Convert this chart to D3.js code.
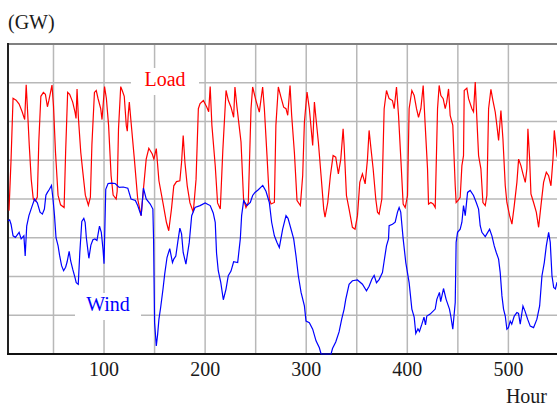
<!DOCTYPE html>
<html>
<head>
<meta charset="utf-8">
<script src="https://cdn.jsdelivr.net/npm/d3@7"></script>
<style>
  body { margin: 0; background: #fff; }
  svg { display: block; font-family: "Liberation Serif", "Times New Roman", serif; }
</style>
</head>
<body>
<svg id="chart" width="557" height="406"></svg>
<script>
// hourly load and wind output (GW) at turning points
const loadData = [
  [6,37],[8,50],[10,66],[13,65.5],[16,64.5],[19,62.5],[21.5,60.5],[23,69.5],[24.5,62],[26,54],[28,45],[30,40],[32,39.5],[34,40.5],
  [35.5,55],[37.5,66.5],[40,67.5],[42,67],[44,63.8],[45.5,65.5],[48.5,69.4],[50,64],[52,52],[54.5,41],[57,38.5],[60.5,37.8],
  [62,52],[64,67.5],[66,67],[69,65],[71.3,62.4],[72.3,60.8],[73.3,68.4],[74.7,60.7],[77,52],[79,47],[81.5,41],[84.5,38.4],[86.5,40.5],
  [88,54],[90.5,67.5],[92.3,68],[94,66],[96.7,63.3],[98,60.5],[100.5,69],[102.3,66],[104.5,59],[107,46],[109,41],[112,40],[113,42],
  [114.3,58],[116.5,69],[118,68],[120,66.5],[122,59],[123,57.5],[124,62],[125,65],[126.5,60.5],[130,50.3],[133.3,40],[136.7,35.7],
  [139,42.6],[141.7,50.3],[144.3,53.1],[147.7,51.6],[149.3,50.3],[151.7,53],[154.3,44.7],[158.3,39],[161.7,34],[164,31.8],
  [166.7,37.4],[169,43.4],[171.7,44.5],[175,44.7],[176.7,49.5],[178.3,56.4],[180,49.5],[182.3,43.4],[185,39],[188.3,36.6],
  [191,45],[193.3,63.3],[195,64.6],[198.3,65.4],[201.7,63.7],[203.5,62.5],[205,69],[206.7,59],[210,48.6],[212.3,39],[215,37.4],
  [217.5,52.5],[220.7,68],[223,65.4],[225.6,63.7],[228.2,61.1],[229.5,68.9],[231.5,63.7],[235.5,54.7],[238,40],[240.4,37.8],
  [242.7,39.1],[245.4,63.3],[247,68.9],[250.3,65.4],[253.6,62.4],[256.9,68.9],[258.6,63.3],[261.2,51.2],[263.5,40],[265.2,38.7],
  [268.5,39.1],[270,59],[272.4,68.9],[275,66.3],[277.7,63.7],[280,63.3],[281.7,61.6],[284,69.3],[285.6,61.6],[288.3,52],
  [290.9,39.6],[294.2,38.3],[296.5,46],[298.2,59.8],[300.8,67.6],[303.1,63.3],[306.4,53.8],[308.1,65],[309.7,60.7],[312,54.7],
  [314.7,46],[317.3,37.4],[318.6,35.3],[321.3,39.1],[323.9,46],[326.6,51.2],[329.2,50.8],[331.8,46.5],[334.2,50.3],[336.5,58.1],
  [337.5,53.8],[339.8,40.9],[342.4,37.4],[345.7,32.7],[348.3,32.2],[350.7,35.7],[353,44.3],[355.6,46.5],[358.3,43.9],[360.6,50.3],
  [362.2,57.7],[363.9,53.4],[366.2,47.8],[368.8,40],[370.5,36.6],[372.1,36.1],[374.8,40],[377.1,63.3],[379.4,68],[382,65.9],
  [385.3,65.4],[387,63.3],[389.3,68.9],[391.3,61.6],[393.6,50.3],[395.9,38.7],[397.9,37.8],[400.2,40.9],[401.8,63.3],[404.5,68],
  [406.8,66.7],[409.1,63.3],[411.1,61.1],[413.4,63.3],[415.7,69.3],[417.7,59],[420,47.8],[421,38.7],[423.3,39.1],[425.6,38.7],
  [427.6,37.8],[429.9,63.3],[431.5,69.3],[433.2,66.7],[435.5,65.9],[437.5,63.3],[439,65],[440.8,68.4],[442.4,61.6],[445,59],
  [447.4,43.4],[448.3,39.1],[450,39.6],[452.3,40.4],[454,48.6],[455.6,51.2],[456.3,68],[458.9,68.6],[460.6,65.9],[463.9,63.3],
  [465.5,62.5],[467.2,70.2],[468.8,60.7],[470.5,51.2],[472.8,47.8],[474.8,39.1],[477.1,38.3],[478.7,40.9],[480.4,63.3],[482.7,68.3],
  [484.7,65.4],[487,62.4],[488.6,59],[490.3,55.1],[492.6,62.8],[494.6,55.5],[496.9,43.4],[498.5,39.1],[501.2,35.7],[503.5,33.5],
  [505.8,38.3],[508.4,44.3],[510.1,50.3],[512.4,48.6],[514.4,46.5],[516.7,44.3],[518.3,47.8],[519.3,58.1],[521,50.3],[522.3,41.3],
  [524.9,39.1],[527.6,36.6],[529.9,32.7],[532.2,38.3],[534.8,44.3],[537.5,46.9],[539.8,46],[542.1,43.4],[544.1,50.3],[545.4,57.7],
  [546.5,55],[548,51.2],[552,47]
];

const windData = [
  [5,34.4],[6.6,34.6],[8,33.5],[10,30.5],[12.3,30.1],[14,30.7],[16,31.4],[18,29.7],[20.7,30.5],[22,25.3],[23.5,33],[25.7,35.7],
  [29,38.3],[31.3,40],[34,39],[36.7,36.6],[39,36.1],[41,37.4],[42.5,41],[44,41.7],[46,42.5],[48,43.5],[49.5,40],[51,35.7],
  [52.5,30],[54.5,28],[56,25.5],[58,22.8],[60,21.5],[62,22.4],[63.5,23.8],[65.5,26.5],[67,24],[69,21.9],[71.3,19.7],[72.5,18.4],
  [74.5,18],[76,26],[78,34.2],[80,35],[81.3,34],[82.5,30],[85,24.7],[87,28.1],[89,29.5],[91,29.7],[93,29.3],[95.5,33],[97.3,31.4],
  [99,27],[100,23.3],[101.7,42.5],[104,44],[107.3,44.1],[111,44],[115,43],[119,43.1],[123.5,42.8],[126.7,40],[131,39.6],
  [133.3,38.3],[136.7,35.7],[139,42.8],[141.7,40],[145.7,38.7],[148.3,37.4],[149,29.7],[150,8.1],[151.7,2.1],[153,5],[154.3,9],
  [156,12],[158.3,16.7],[160,20.6],[162.3,24.9],[165,27.2],[167.7,23.6],[169,24.5],[171,25.3],[173,29],[175,32.5],[176.7,31],
  [178.3,26.2],[181,23.2],[184.3,28.8],[186.7,35.7],[190,37.8],[195,38.3],[200,39],[205,38.3],[208,36.4],[210,34],[211.3,26],
  [213,21.5],[215.5,18.4],[218,14],[220.6,16.7],[222.9,20.2],[225.6,21.4],[228.2,23.8],[232.2,23.6],[234.8,29.7],[236.1,35.7],
  [238.1,39.6],[241.4,38.3],[244.7,39.1],[247,40.9],[249.3,41.7],[252.6,42.4],[257,43.5],[260.2,42],[263.5,39.1],[265.8,34],
  [268.5,30.5],[271.1,28.8],[273.4,27.5],[276.7,32.2],[280,35.7],[282,35],[285,32.2],[287.6,29.7],[289.9,25.3],[292.2,20.2],
  [294.9,15.9],[298.2,12.4],[299.8,8.5],[303.1,8.1],[306.4,6.4],[309.7,3.4],[313,1.6],[314.7,0],[324.6,0],[326,1.4],[329.2,3.1],
  [332.5,5.7],[335.1,9],[337.5,11.6],[339.1,14.1],[342.4,18],[345.7,18.9],[350.7,19.1],[355.6,18],[359.6,16.3],[362.2,17.5],
  [364.9,19.3],[367.2,20.3],[369.5,18.4],[372.1,19.2],[375.4,21],[377.1,24],[379.4,27.9],[381.4,29.7],[382,33.1],[385.3,33.5],
  [388,34],[390.3,36.6],[391.9,37.8],[393.5,36.6],[395.9,29.7],[398.5,23.6],[401.8,18.4],[404.5,11.6],[406.8,9.5],[408.4,5.3],
  [410.5,6.5],[412,5.8],[414.4,7.7],[416.5,9.5],[418,7.5],[419.3,9.8],[422.6,10.3],[427.6,11.6],[429.2,14.1],[431.8,15.9],
  [433,13.5],[435.8,16.9],[438.4,14.1],[441.7,11.6],[443,9.8],[445,6.4],[447.4,13.3],[448.3,28.8],[449.7,31.4],[452.3,32.2],
  [454,34],[455.6,38.3],[457.3,35.7],[459.6,41.7],[462.2,42.2],[465.5,40.9],[468.2,39.1],[470.5,37.4],[472.1,33.1],[473.8,31.4],
  [477.1,30.3],[481.4,32.2],[483.7,30.5],[486,27.9],[488,26.2],[490.3,24.5],[491.9,21],[493.6,15],[495.2,11.6],[496.9,9.8],
  [498.5,6.4],[500,6.8],[501.8,8.5],[503.3,7.7],[505.8,9.8],[508.4,10.7],[510,10.5],[511.7,7.7],[514.4,12.4],[516.5,11],[519,9],
  [521.6,7.2],[524.9,6.8],[528.2,9],[530.9,12.4],[533.2,20.2],[535.5,23.6],[537.5,27.9],[539.8,31.4],[541.4,28.8],[543.1,20.2],
  [544.8,17.2],[546.5,16.8],[548,18.4],[552,19]
];

const xTickLabels = [100, 200, 300, 400, 500];
const xGridHours = [50, 100, 150, 200, 250, 300, 350, 400, 450, 500, 550];
const yGridValues = [10, 20, 30, 40, 50, 60, 70];

const svg = d3.select("#chart");

// plot area (runs past the right edge of the picture)
const plotLeft = 8, plotTop = 44, plotBottom = 354, plotRight = 564;

const x = d3.scaleLinear().domain([5, 555]).range([plotLeft, plotRight]);
const y = d3.scaleLinear().domain([0, 80]).range([plotBottom, plotTop]);

// grid
svg.append("g").selectAll("line")
    .data(yGridValues)
    .enter().append("line")
    .attr("x1", plotLeft).attr("x2", plotRight)
    .attr("y1", d => y(d)).attr("y2", d => y(d))
    .attr("stroke", "#b8b8b8")
    .attr("stroke-width", 1.5);

svg.append("g").selectAll("line")
    .data(xGridHours)
    .enter().append("line")
    .attr("x1", d => x(d)).attr("x2", d => x(d))
    .attr("y1", plotTop).attr("y2", plotBottom)
    .attr("stroke", "#b8b8b8")
    .attr("stroke-width", 1.5);

// white boxes behind the series labels
svg.append("rect")
    .attr("x", 131).attr("y", 68)
    .attr("width", 68).attr("height", 27)
    .attr("fill", "#fff");

svg.append("rect")
    .attr("x", 75).attr("y", 293)
    .attr("width", 66).attr("height", 27)
    .attr("fill", "#fff");

// frame
svg.append("line")
    .attr("x1", plotLeft).attr("x2", plotRight)
    .attr("y1", plotTop).attr("y2", plotTop)
    .attr("stroke", "#808080").attr("stroke-width", 2);
svg.append("line")
    .attr("x1", plotLeft).attr("x2", plotLeft)
    .attr("y1", plotTop - 1).attr("y2", plotBottom)
    .attr("stroke", "#222").attr("stroke-width", 2);
svg.append("line")
    .attr("x1", plotLeft - 1).attr("x2", plotRight)
    .attr("y1", plotBottom).attr("y2", plotBottom)
    .attr("stroke", "#111").attr("stroke-width", 2);

// series
const line = d3.line()
    .x(d => x(d[0]))
    .y(d => y(d[1]));

svg.append("path")
    .datum(loadData)
    .attr("d", line)
    .attr("fill", "none")
    .attr("stroke", "#ff0000")
    .attr("stroke-width", 1.2);

svg.append("path")
    .datum(windData)
    .attr("d", line)
    .attr("fill", "none")
    .attr("stroke", "#0000ff")
    .attr("stroke-width", 1.2);

// labels
svg.append("text")
    .attr("x", 165).attr("y", 86)
    .attr("text-anchor", "middle")
    .attr("fill", "#ff0000")
    .style("font-size", "20px")
    .text("Load");

svg.append("text")
    .attr("x", 108).attr("y", 310.5)
    .attr("text-anchor", "middle")
    .attr("fill", "#0000ff")
    .style("font-size", "20px")
    .text("Wind");

// x tick labels
svg.append("g").selectAll("text")
    .data(xTickLabels)
    .enter().append("text")
    .attr("x", d => x(d))
    .attr("y", 376)
    .attr("text-anchor", "middle")
    .attr("fill", "#1a1a1a")
    .style("font-size", "20px")
    .text(d => d);

svg.append("text")
    .attr("x", 547).attr("y", 402.5)
    .attr("text-anchor", "end")
    .attr("fill", "#1a1a1a")
    .style("font-size", "20px")
    .text("Hour");

svg.append("text")
    .attr("x", 8).attr("y", 28.5)
    .attr("fill", "#1a1a1a")
    .style("font-size", "20px")
    .text("(GW)");
</script>
</body>
</html>
